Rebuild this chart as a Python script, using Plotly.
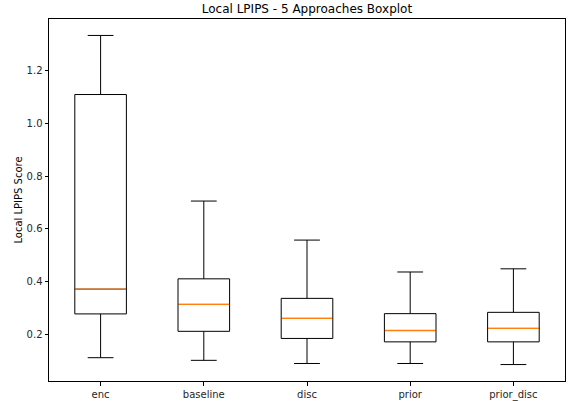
import plotly.graph_objects as go

categories = ["enc", "baseline", "disc", "prior", "prior_disc"]
lower_whisker = [0.111, 0.101, 0.089, 0.089, 0.085]
q1 = [0.277, 0.211, 0.184, 0.171, 0.171]
median = [0.371, 0.313, 0.260, 0.214, 0.222]
q3 = [1.109, 0.410, 0.336, 0.278, 0.283]
upper_whisker = [1.333, 0.705, 0.557, 0.436, 0.448]

positions = list(range(1, len(categories) + 1))
box_width = 0.5

fig = go.Figure()
fig.add_trace(go.Box(
    x=positions, q1=q1, median=median, q3=q3,
    lowerfence=lower_whisker, upperfence=upper_whisker,
    width=box_width, whiskerwidth=0.5,
    line=dict(color="black", width=1),
    fillcolor="rgba(0,0,0,0)",
    boxpoints=False, showlegend=False, hoverinfo="skip",
))

mx, my = [], []
for p, m in zip(positions, median):
    mx += [p - box_width / 2 + 0.004, p + box_width / 2 - 0.004, None]
    my += [m, m, None]
fig.add_trace(go.Scatter(x=mx, y=my, mode="lines",
                         line=dict(color="#ff7f0e", width=1.4),
                         showlegend=False, hoverinfo="skip"))

lo, hi = min(lower_whisker), max(upper_whisker)
pad = (hi - lo) * 0.05

axis_common = dict(showline=True, linecolor="black", linewidth=1, mirror=True,
                   ticks="outside", ticklen=3.5, tickwidth=1, tickcolor="black",
                   showgrid=False, zeroline=False, automargin=False,
                   tickfont=dict(family="DejaVu Sans", size=10, color="#262626"))

fig.update_layout(
    width=577, height=401,
    margin=dict(l=49, r=12, t=19, b=20),
    paper_bgcolor="white", plot_bgcolor="white",
    title=dict(text="Local LPIPS - 5 Approaches Boxplot", x=0.532, xanchor="center",
               y=1 - 9 / 401, yanchor="middle", automargin=False,
               font=dict(family="DejaVu Sans", size=12, color="black")),
    xaxis=dict(range=[0.5, len(categories) + 0.5], tickvals=positions,
               ticktext=categories, **axis_common),
    yaxis=dict(range=[lo - pad, hi + pad], tickvals=[0.2, 0.4, 0.6, 0.8, 1.0, 1.2],
               ticktext=["0.2", "0.4", "0.6", "0.8", "1.0", "1.2"],
               title=dict(text="Local LPIPS Score", standoff=2,
                          font=dict(family="DejaVu Sans", size=10, color="black")),
               **axis_common),
)

fig.write_html("out.html", config={"displayModeBar": False},
               post_script="document.body.style.margin='0';document.body.style.overflow='hidden';")
